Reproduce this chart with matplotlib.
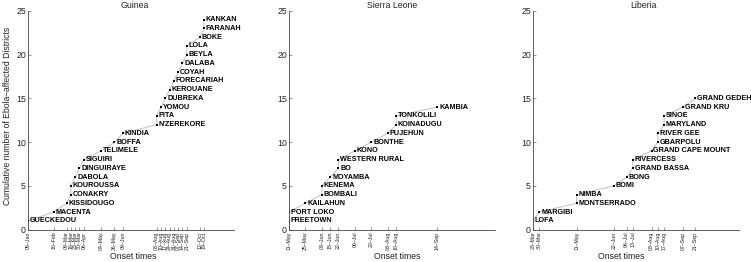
import matplotlib
matplotlib.use("Agg")
import matplotlib.pyplot as plt
import matplotlib.dates as mdates
import numpy as np
import pandas as pd

plt.rcParams['font.family'] = ['Liberation Sans', 'DejaVu Sans']

# ---------------- data ----------------
guinea_districts = ["GUECKEDOU", "MACENTA", "KISSIDOUGO", "CONAKRY", "KOUROUSSA", "DABOLA",
                    "DINGUIRAYE", "SIGUIRI", "TELIMELE", "BOFFA", "KINDIA", "N'ZEREKORE",
                    "PITA", "YOMOU", "DUBREKA", "KEROUANE", "FORECARIAH", "COYAH", "DALABA",
                    "BEYLA", "LOLA", "BOKE", "FARANAH", "KANKAN"]
guinea_dates = ["2014-01-05", "2014-02-16", "2014-03-09", "2014-03-16", "2014-03-16", "2014-03-23",
                "2014-03-30", "2014-04-06", "2014-05-04", "2014-05-26", "2014-06-09", "2014-08-03",
                "2014-08-03", "2014-08-10", "2014-08-17", "2014-08-24", "2014-08-31", "2014-09-07",
                "2014-09-14", "2014-09-21", "2014-09-21", "2014-10-12", "2014-10-19", "2014-10-19"]

sl_districts = ["FREETOWN", "PORT LOKO", "KAILAHUN", "BOMBALI", "KENEMA", "MOYAMBA", "BO",
                "WESTERN RURAL", "KONO", "BONTHE", "PUJEHUN", "KOINADUGU", "TONKOLILI", "KAMBIA"]
sl_dates = ["2014-05-11", "2014-05-11", "2014-05-25", "2014-06-08", "2014-06-08", "2014-06-15",
            "2014-06-22", "2014-06-22", "2014-07-06", "2014-07-20", "2014-08-03", "2014-08-10",
            "2014-08-10", "2014-09-14"]

lib_districts = ["LOFA", "MARGIBI", "MONTSERRADO", "NIMBA", "BOMI", "BONG", "GRAND BASSA",
                 "RIVERCESS", "GRAND CAPE MOUNT", "GBARPOLU", "RIVER GEE", "MARYLAND", "SINOE",
                 "GRAND KRU", "GRAND GEDEH"]
lib_dates = ["2014-03-23", "2014-03-30", "2014-05-11", "2014-05-11", "2014-06-22", "2014-07-06",
             "2014-07-13", "2014-07-13", "2014-08-03", "2014-08-10", "2014-08-10", "2014-08-17",
             "2014-08-17", "2014-09-07", "2014-09-21"]

countries = ["Guinea", "Sierra Leone", "Liberia"]
y_label = "Cumulative number of Ebola\u2013affected Districts"
x_label = "Onset times"
y_ticks = [0, 5, 10, 15, 20, 25]

panels = [(guinea_districts, guinea_dates), (sl_districts, sl_dates), (lib_districts, lib_dates)]

# ---------------- layout ----------------
W, H = 751, 262
fig = plt.figure(figsize=(W / 100, H / 100), dpi=100)
lefts = [28, 289, 533]
ax_w = 206
ax_top, ax_bot = 11, 229.5
title_x = [0.519, 0.50, 0.534]
xlabel_x = [0.51, 0.524, 0.427]

spine_col = '#444444'

for i, (names, dates) in enumerate(panels):
    ax = fig.add_axes([lefts[i] / W, (H - ax_bot) / H, ax_w / W, (ax_bot - ax_top) / H])
    d = pd.to_datetime(dates)
    y = np.arange(1, len(names) + 1)
    xn = mdates.date2num(d)
    ax.plot(xn, y, '-', color='#b5b5b5', lw=0.6, zorder=1)
    ax.plot(xn, y, 's', color='black', ms=1.9, mew=0, zorder=2)
    for xx, yy, nm in zip(xn, y, names):
        ax.annotate(nm, (xx, yy), xytext=(1.3, 0), textcoords='offset points',
                    ha='left', va='center', fontsize=5.2, fontweight='bold', color='black')
    ax.set_xlim(xn[0], xn[-1] + 49)
    ax.set_ylim(0, 25)
    uniq = np.unique(xn)
    ax.set_xticks(uniq)
    ax.set_xticklabels([mdates.num2date(u).strftime('%d\u2013%b') for u in uniq],
                       rotation=90, fontsize=3.8, color='#222222')
    ax.set_yticks(y_ticks)
    ax.set_yticklabels([str(t) for t in y_ticks], fontsize=6.3, color='#222222')
    ax.tick_params(axis='x', direction='in', length=2, width=0.4, pad=1.5, color=spine_col)
    ax.tick_params(axis='y', direction='in', length=2, width=0.4, pad=1.5, color=spine_col)
    for s in ['top', 'right']:
        ax.spines[s].set_visible(False)
    for s in ['left', 'bottom']:
        ax.spines[s].set_color(spine_col)
        ax.spines[s].set_linewidth(0.6)
    ax.set_title(countries[i], fontsize=6.3, pad=2, color='#222222')
    ax.title.set_x(title_x[i])
    ax.set_xlabel(x_label, fontsize=6.3, color='#222222')
    ax.xaxis.label.set_va('center')
    ax.xaxis.set_label_coords(xlabel_x[i], (ax_bot - 256.5) / (ax_bot - ax_top))
    if i == 0:
        ax.set_ylabel(y_label, fontsize=6.2, color='#222222')
        ax.yaxis.label.set_va('center')
        ax.yaxis.set_label_coords((8 - 28) / ax_w, 0.52)

fig.savefig("out.png", dpi=100)
